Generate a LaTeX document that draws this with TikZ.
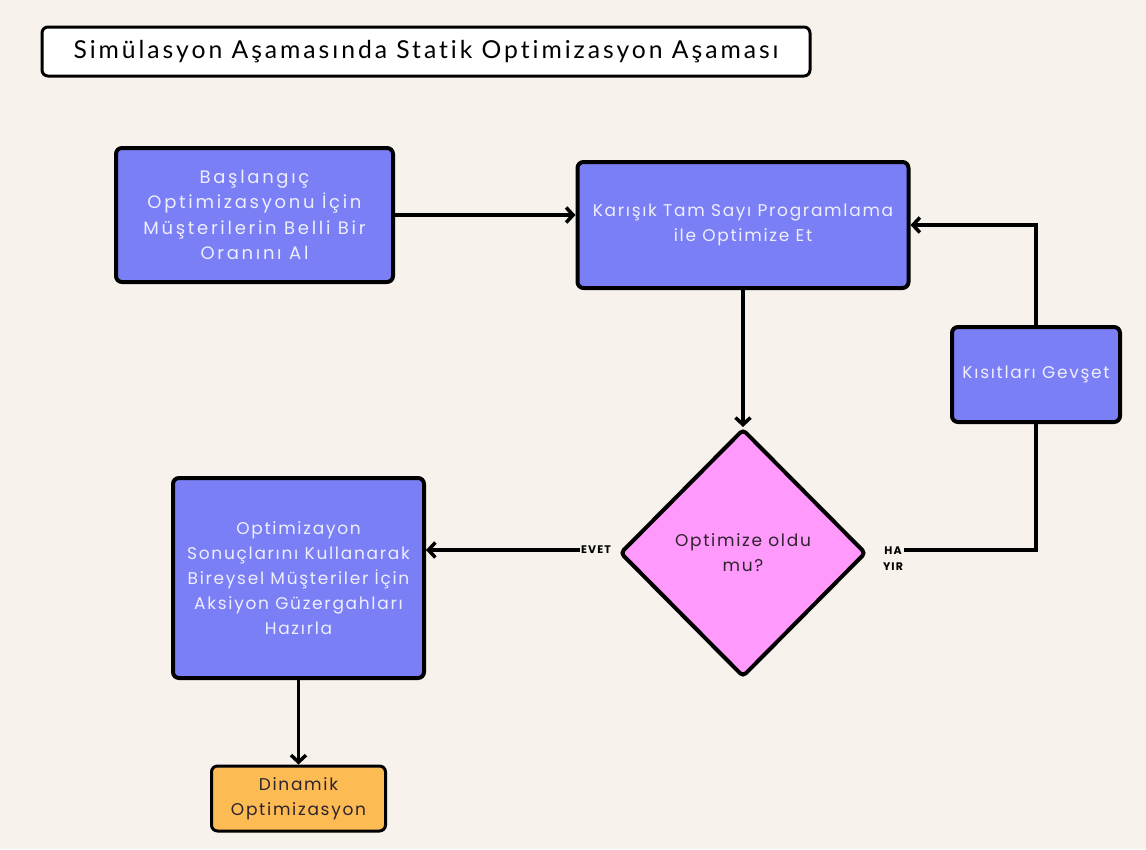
\documentclass[tikz,border=0pt]{standalone}
\usepackage{fontspec}
\setmainfont{Poppins}
\newfontfamily\boxfont[LetterSpace=10,Ligatures=NoCommon]{Poppins}
\newfontfamily\wideboxfont[LetterSpace=15,Ligatures=NoCommon]{Poppins}
\newfontfamily\labelfont[LetterSpace=10]{Poppins Bold}
\newfontfamily\titlefont[LetterSpace=12,Ligatures=NoCommon]{Lato}
\usepackage{tikz}
\usetikzlibrary{shapes.geometric,arrows.meta}
\definecolor{bg}{RGB}{247,242,235}
\definecolor{boxblue}{RGB}{122,127,245}
\definecolor{boxpink}{RGB}{255,153,252}
\definecolor{boxorange}{RGB}{253,187,84}
\definecolor{lighttext}{RGB}{238,238,255}
\definecolor{darktext}{RGB}{45,35,45}
\tikzset{
  process/.style={draw=black,line width=4pt,rounded corners=6pt,fill=boxblue,
    text=lighttext,align=center,inner sep=0pt,
    font=\boxfont\fontsize{17}{25}\selectfont},
  decision/.style={diamond,draw=black,line width=4pt,rounded corners=4pt,fill=boxpink,
    text=darktext,align=center,inner sep=0pt,
    font=\boxfont\fontsize{17}{25}\selectfont},
  answer/.style={font=\labelfont\fontsize{11}{16}\selectfont,align=center,inner sep=1pt,text=black},
  flow/.style={line width=3.5pt,-{Straight Barb[length=7pt,width=15pt,line width=3.5pt]}}
}
\begin{document}
\begin{tikzpicture}[x=1pt,y=-1pt]
  \useasboundingbox[fill=bg] (0,0) rectangle (1146,849);

  % title
  \node[draw=black,line width=3pt,rounded corners=6pt,fill=white,minimum width=768pt,minimum height=49pt,
        font=\titlefont\fontsize{24.7}{28}\selectfont] (title) at (426,51.5)
        {Simülasyon Aşamasında Statik Optimizasyon Aşaması};

  % boxes
  \node[process,font=\wideboxfont\fontsize{18}{25.5}\selectfont,minimum width=277pt,minimum height=134pt] (start) at (254.5,215)
        {Başlangıç\\Optimizasyonu İçin\\Müşterilerin Belli Bir\\Oranını Al};
  \node[process,minimum width=331pt,minimum height=126pt] (mip) at (743,225)
        {Karışık Tam Sayı Programlama\\ile Optimize Et};
  \node[process,minimum width=168pt,minimum height=95pt] (relax) at (1036,374.5)
        {Kısıtları Gevşet};
  \node[decision,minimum width=246pt,minimum height=248pt] (check) at (743,553)
        {Optimize oldu\\mu?};
  \node[process,minimum width=251pt,minimum height=200pt] (result) at (298.5,578)
        {Optimizayon\\Sonuçlarını Kullanarak\\Bireysel Müşteriler İçin\\Aksiyon Güzergahları\\Hazırla};
  \node[process,fill=boxorange,text=darktext,line width=3pt,minimum width=174pt,minimum height=65pt] (final) at (298.5,798.5)
        {Dinamik\\Optimizasyon};

  % labels
  \node[answer] (yes) at (596,550) {EVET};
  \node[answer] (no) at (893,559) {HA\\YIR};

  % connectors
  \draw[flow] (start.east) -- (start.east -| mip.west);
  \draw[flow] (mip.south) -- (check.north);
  \draw[flow] (yes.west) -- (yes.west -| result.east);
  \draw[line width=3.5pt] (no.east |- yes) -| (relax.south);
  \draw[flow] (relax.north) |- (mip.east);
  \draw[flow] (result.south) -- (final.north);
\end{tikzpicture}
\end{document}
